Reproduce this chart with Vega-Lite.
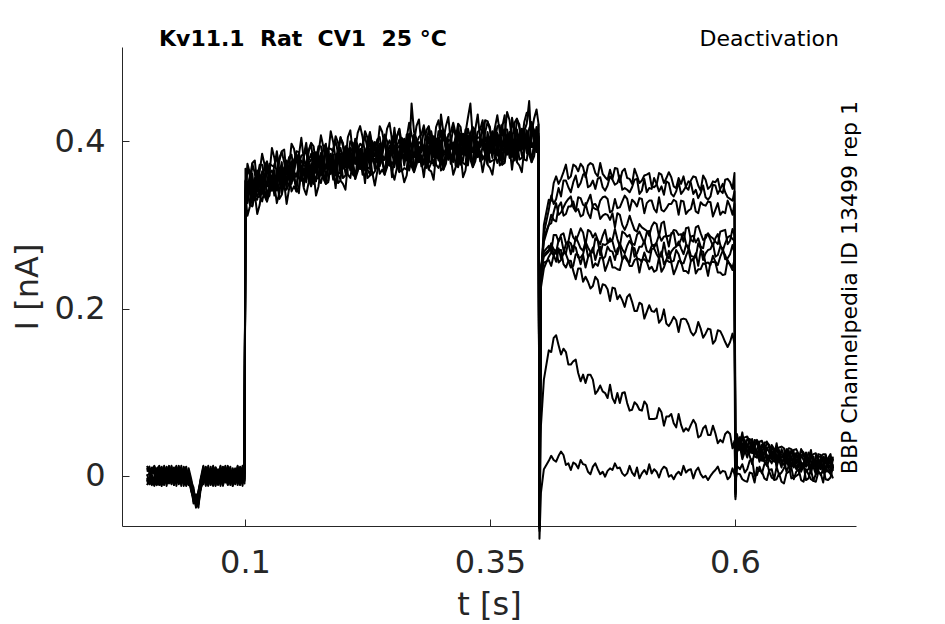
{
  "$schema": "https://vega.github.io/schema/vega-lite/v6.json",
  "width": 734,
  "height": 479,
  "autosize": {"type": "none"},
  "padding": {"left": 122, "top": 47, "right": 89, "bottom": 98},
  "background": "white",
  "title": {
    "text": "Kv11.1\u00a0 Rat\u00a0 CV1\u00a0 25 °C",
    "anchor": "start",
    "frame": "group",
    "dx": 37,
    "offset": -23,
    "font": "DejaVu Sans",
    "fontSize": 22,
    "fontWeight": "bold",
    "color": "#000000"
  },
  "config": {
    "view": {"stroke": null},
    "axis": {
      "grid": false,
      "domainColor": "#262626",
      "tickColor": "#262626",
      "labelColor": "#262626",
      "titleColor": "#262626",
      "labelFont": "DejaVu Sans",
      "titleFont": "DejaVu Sans",
      "labelFontSize": 32,
      "titleFontSize": 32,
      "titleFontWeight": "normal",
      "tickSize": -7,
      "domainWidth": 1,
      "tickWidth": 1
    }
  },
  "layer": [
    {
      "data": {
        "values": [
          {"t":0,"a":0.005,"b":-0.008,"c":0.002,"d":0.01,"e":-0.004,"f":-0.011,"g":0.007,"h":0,"i":-0.006,"j":0.012,"k":-0.002},
          {"t":0.0025,"a":0.009,"b":-0.003,"c":-0.007,"d":0.004,"e":-0.01,"f":-0.005,"g":0.011,"h":0.003,"i":-0.001,"j":0.006,"k":-0.009},
          {"t":0.005,"a":-0.002,"b":0.006,"c":-0.011,"d":-0.006,"e":0.003,"f":0.008,"g":0.001,"h":-0.009,"i":0.01,"j":-0.004,"k":0.007},
          {"t":0.0075,"a":-0.01,"b":0.011,"c":-0.001,"d":-0.012,"e":0.007,"f":0.002,"g":-0.006,"h":-0.004,"i":0.005,"j":-0.008,"k":0.012},
          {"t":0.01,"a":0.003,"b":0.004,"c":0.009,"d":-0.005,"e":-0.008,"f":-0.009,"g":-0.011,"h":0.008,"i":-0.003,"j":0.002,"k":0.001},
          {"t":0.0125,"a":0.008,"b":-0.007,"c":0.004,"d":0.006,"e":-0.002,"f":0.01,"g":-0.003,"h":0.012,"i":-0.011,"j":-0.006,"k":-0.005},
          {"t":0.015,"a":-0.006,"b":-0.012,"c":-0.008,"d":0.011,"e":0.009,"f":0.005,"g":0.004,"h":-0.001,"i":0.002,"j":-0.01,"k":-0.007},
          {"t":0.0175,"a":0,"b":0.002,"c":0.012,"d":0.001,"e":-0.011,"f":-0.003,"g":0.009,"h":-0.01,"i":0.008,"j":0.007,"k":0.004},
          {"t":0.02,"a":0.011,"b":0.009,"c":-0.004,"d":-0.009,"e":0.001,"f":-0.007,"g":-0.002,"h":0.005,"i":-0.012,"j":0.003,"k":0.01},
          {"t":0.0225,"a":-0.004,"b":-0.001,"c":0.006,"d":-0.003,"e":0.012,"f":0.011,"g":-0.008,"h":-0.006,"i":0.004,"j":-0.009,"k":-0.003},
          {"t":0.025,"a":0.007,"b":-0.01,"c":-0.009,"d":0.008,"e":-0.005,"f":-0.001,"g":0.012,"h":0.002,"i":-0.007,"j":0.011,"k":0.006},
          {"t":0.0275,"a":-0.009,"b":0.005,"c":0.003,"d":-0.011,"e":-0.007,"f":0.006,"g":-0.005,"h":0.01,"i":0.001,"j":-0.002,"k":-0.011},
          {"t":0.03,"a":0.002,"b":0.012,"c":-0.006,"d":0.005,"e":0.01,"f":-0.012,"g":0.003,"h":-0.003,"i":0.009,"j":-0.007,"k":0},
          {"t":0.0325,"a":0.012,"b":-0.004,"c":0.01,"d":-0.002,"e":-0.001,"f":0.004,"g":-0.01,"h":0.007,"i":-0.005,"j":0.005,"k":0.008},
          {"t":0.035,"a":-0.007,"b":0.001,"c":-0.003,"d":0.012,"e":0.006,"f":0.009,"g":-0.001,"h":-0.012,"i":-0.009,"j":-0.001,"k":-0.006},
          {"t":0.0375,"a":0.004,"b":-0.009,"c":0.007,"d":-0.007,"e":-0.012,"f":-0.004,"g":0.008,"h":0.004,"i":0.011,"j":0.01,"k":0.002},
          {"t":0.04,"a":-0.011,"b":0.007,"c":-0.012,"d":0.003,"e":0.004,"f":0.001,"g":-0.007,"h":-0.008,"i":-0.002,"j":-0.005,"k":0.011},
          {"t":0.0425,"a":0.006,"b":-0.002,"c":0.001,"d":-0.01,"e":-0.003,"f":-0.008,"g":0.002,"h":0.009,"i":0.006,"j":-0.011,"k":-0.004},
          {"t":0.045,"a":-0.008,"b":-0.014,"c":-0.01,"d":-0.004,"e":-0.016,"f":-0.006,"g":-0.018,"h":-0.003,"i":-0.012,"j":-0.009,"k":-0.015},
          {"t":0.0475,"a":-0.02,"b":-0.028,"c":-0.017,"d":-0.025,"e":-0.031,"f":-0.014,"g":-0.026,"h":-0.033,"i":-0.022,"j":-0.019,"k":-0.024},
          {"t":0.05,"a":-0.033,"b":-0.024,"c":-0.038,"d":-0.029,"e":-0.022,"f":-0.035,"g":-0.027,"h":-0.031,"i":-0.036,"j":-0.03,"k":-0.026},
          {"t":0.0525,"a":-0.021,"b":-0.03,"c":-0.018,"d":-0.034,"e":-0.027,"f":-0.019,"g":-0.032,"h":-0.023,"i":-0.025,"j":-0.038,"k":-0.02},
          {"t":0.055,"a":-0.006,"b":-0.012,"c":-0.003,"d":-0.015,"e":-0.009,"f":-0.004,"g":-0.011,"h":-0.014,"i":-0.002,"j":-0.008,"k":-0.013},
          {"t":0.0575,"a":0.009,"b":-0.005,"c":0.006,"d":-0.001,"e":0.011,"f":-0.01,"g":0.003,"h":-0.007,"i":0.012,"j":-0.003,"k":0.005},
          {"t":0.06,"a":-0.003,"b":0.01,"c":-0.009,"d":0.007,"e":-0.006,"f":0.002,"g":-0.012,"h":0.011,"i":-0.004,"j":0.008,"k":-0.001},
          {"t":0.0625,"a":0.012,"b":0.003,"c":-0.002,"d":-0.011,"e":0.005,"f":0.008,"g":0.006,"h":-0.005,"i":0.001,"j":-0.012,"k":0.009},
          {"t":0.065,"a":-0.005,"b":-0.011,"c":0.011,"d":0.004,"e":-0.01,"f":-0.006,"g":-0.003,"h":0.001,"i":-0.009,"j":0.004,"k":-0.008},
          {"t":0.0675,"a":0.001,"b":0.007,"c":-0.006,"d":0.01,"e":0.002,"f":0.012,"g":-0.009,"h":-0.012,"i":0.007,"j":-0.006,"k":0.011},
          {"t":0.07,"a":0.01,"b":-0.001,"c":0.004,"d":-0.008,"e":-0.012,"f":-0.002,"g":0.01,"h":0.006,"i":-0.011,"j":0.009,"k":-0.004},
          {"t":0.0725,"a":-0.008,"b":-0.009,"c":-0.011,"d":0.002,"e":0.008,"f":-0.009,"g":-0.001,"h":-0.002,"i":0.003,"j":-0.001,"k":0.003},
          {"t":0.075,"a":0.004,"b":0.011,"c":0.008,"d":-0.005,"e":-0.004,"f":0.005,"g":-0.007,"h":0.012,"i":-0.006,"j":-0.01,"k":-0.012},
          {"t":0.0775,"a":-0.012,"b":-0.004,"c":-0.001,"d":0.011,"e":0.01,"f":-0.011,"g":0.004,"h":-0.008,"i":0.01,"j":0.006,"k":0.007},
          {"t":0.08,"a":0.006,"b":0.008,"c":-0.008,"d":-0.003,"e":-0.007,"f":0.001,"g":0.012,"h":0.003,"i":-0.002,"j":0.001,"k":-0.005},
          {"t":0.0825,"a":-0.001,"b":-0.006,"c":0.01,"d":-0.01,"e":0.003,"f":0.01,"g":-0.005,"h":-0.011,"i":-0.008,"j":0.012,"k":0.01},
          {"t":0.085,"a":0.011,"b":0.002,"c":-0.004,"d":0.006,"e":-0.011,"f":-0.007,"g":0.001,"h":0.009,"i":0.005,"j":-0.003,"k":-0.002},
          {"t":0.0875,"a":-0.006,"b":-0.012,"c":0.003,"d":-0.001,"e":0.009,"f":0.003,"g":-0.01,"h":-0.004,"i":-0.012,"j":-0.008,"k":0.004},
          {"t":0.09,"a":0.003,"b":0.006,"c":-0.01,"d":0.009,"e":-0.002,"f":-0.005,"g":0.007,"h":0.005,"i":0.008,"j":0.005,"k":-0.009},
          {"t":0.0925,"a":0.008,"b":-0.003,"c":0.007,"d":-0.007,"e":0.012,"f":0.011,"g":-0.003,"h":-0.009,"i":-0.001,"j":-0.011,"k":0.001},
          {"t":0.095,"a":-0.01,"b":0.009,"c":-0.002,"d":0.003,"e":-0.005,"f":-0.008,"g":-0.011,"h":0.002,"i":0.011,"j":0.007,"k":0.008},
          {"t":0.0975,"a":0.002,"b":-0.005,"c":0.012,"d":-0.012,"e":0.006,"f":0.006,"g":0.005,"h":0.01,"i":-0.005,"j":-0.002,"k":-0.007},
          {"t":0.0995,"a":0.009,"b":0.004,"c":-0.005,"d":0.005,"e":-0.009,"f":-0.001,"g":-0.006,"h":-0.003,"i":0.004,"j":0.01,"k":0.006},
          {"t":0.1005,"a":0.367,"b":0.34,"c":0.352,"d":0.338,"e":0.353,"f":0.333,"g":0.322,"h":0.335,"i":0.341,"j":0.335,"k":0.33},
          {"t":0.105,"a":0.356,"b":0.362,"c":0.34,"d":0.359,"e":0.343,"f":0.349,"g":0.34,"h":0.322,"i":0.359,"j":0.324,"k":0.344},
          {"t":0.11,"a":0.377,"b":0.356,"c":0.362,"d":0.342,"e":0.336,"f":0.345,"g":0.349,"h":0.331,"i":0.341,"j":0.337,"k":0.332},
          {"t":0.115,"a":0.364,"b":0.372,"c":0.357,"d":0.359,"e":0.356,"f":0.334,"g":0.335,"h":0.351,"i":0.355,"j":0.324,"k":0.356},
          {"t":0.12,"a":0.372,"b":0.355,"c":0.371,"d":0.343,"e":0.356,"f":0.357,"g":0.342,"h":0.334,"i":0.342,"j":0.337,"k":0.36},
          {"t":0.125,"a":0.361,"b":0.373,"c":0.357,"d":0.359,"e":0.346,"f":0.362,"g":0.352,"h":0.342,"i":0.366,"j":0.335,"k":0.346},
          {"t":0.13,"a":0.38,"b":0.369,"c":0.356,"d":0.372,"e":0.365,"f":0.345,"g":0.335,"h":0.348,"i":0.355,"j":0.348,"k":0.353},
          {"t":0.135,"a":0.376,"b":0.365,"c":0.38,"d":0.359,"e":0.349,"f":0.36,"g":0.362,"h":0.338,"i":0.368,"j":0.331,"k":0.36},
          {"t":0.14,"a":0.39,"b":0.369,"c":0.375,"d":0.355,"e":0.349,"f":0.358,"g":0.362,"h":0.344,"i":0.354,"j":0.35,"k":0.345},
          {"t":0.145,"a":0.369,"b":0.381,"c":0.365,"d":0.367,"e":0.354,"f":0.37,"g":0.36,"h":0.35,"i":0.374,"j":0.343,"k":0.354},
          {"t":0.15,"a":0.391,"b":0.364,"c":0.376,"d":0.362,"e":0.377,"f":0.357,"g":0.346,"h":0.359,"i":0.365,"j":0.359,"k":0.354},
          {"t":0.155,"a":0.383,"b":0.372,"c":0.387,"d":0.366,"e":0.356,"f":0.367,"g":0.369,"h":0.345,"i":0.375,"j":0.338,"k":0.367},
          {"t":0.16,"a":0.378,"b":0.384,"c":0.362,"d":0.381,"e":0.365,"f":0.371,"g":0.362,"h":0.344,"i":0.381,"j":0.346,"k":0.366},
          {"t":0.165,"a":0.389,"b":0.372,"c":0.388,"d":0.36,"e":0.373,"f":0.374,"g":0.359,"h":0.351,"i":0.359,"j":0.354,"k":0.377},
          {"t":0.17,"a":0.394,"b":0.383,"c":0.37,"d":0.386,"e":0.379,"f":0.359,"g":0.349,"h":0.362,"i":0.369,"j":0.362,"k":0.367},
          {"t":0.175,"a":0.386,"b":0.394,"c":0.379,"d":0.381,"e":0.378,"f":0.356,"g":0.357,"h":0.373,"i":0.377,"j":0.346,"k":0.378},
          {"t":0.18,"a":0.393,"b":0.376,"c":0.392,"d":0.364,"e":0.377,"f":0.378,"g":0.363,"h":0.355,"i":0.363,"j":0.358,"k":0.381},
          {"t":0.185,"a":0.385,"b":0.391,"c":0.369,"d":0.388,"e":0.372,"f":0.378,"g":0.369,"h":0.351,"i":0.388,"j":0.353,"k":0.373},
          {"t":0.19,"a":0.399,"b":0.388,"c":0.375,"d":0.391,"e":0.384,"f":0.364,"g":0.354,"h":0.367,"i":0.374,"j":0.367,"k":0.372},
          {"t":0.195,"a":0.39,"b":0.398,"c":0.383,"d":0.385,"e":0.382,"f":0.36,"g":0.361,"h":0.377,"i":0.381,"j":0.35,"k":0.382},
          {"t":0.2,"a":0.394,"b":0.383,"c":0.398,"d":0.377,"e":0.367,"f":0.378,"g":0.38,"h":0.356,"i":0.386,"j":0.349,"k":0.378},
          {"t":0.205,"a":0.405,"b":0.378,"c":0.39,"d":0.376,"e":0.391,"f":0.371,"g":0.36,"h":0.373,"i":0.379,"j":0.373,"k":0.368},
          {"t":0.21,"a":0.386,"b":0.398,"c":0.382,"d":0.384,"e":0.371,"f":0.387,"g":0.377,"h":0.367,"i":0.391,"j":0.36,"k":0.371},
          {"t":0.215,"a":0.41,"b":0.389,"c":0.395,"d":0.375,"e":0.369,"f":0.378,"g":0.382,"h":0.364,"i":0.374,"j":0.37,"k":0.365},
          {"t":0.22,"a":0.405,"b":0.394,"c":0.381,"d":0.397,"e":0.39,"f":0.37,"g":0.36,"h":0.373,"i":0.38,"j":0.373,"k":0.378},
          {"t":0.225,"a":0.396,"b":0.404,"c":0.389,"d":0.391,"e":0.388,"f":0.366,"g":0.367,"h":0.383,"i":0.387,"j":0.356,"k":0.388},
          {"t":0.23,"a":0.394,"b":0.4,"c":0.378,"d":0.397,"e":0.381,"f":0.387,"g":0.378,"h":0.36,"i":0.397,"j":0.362,"k":0.382},
          {"t":0.235,"a":0.39,"b":0.402,"c":0.386,"d":0.388,"e":0.375,"f":0.391,"g":0.381,"h":0.371,"i":0.395,"j":0.364,"k":0.375},
          {"t":0.24,"a":0.411,"b":0.384,"c":0.396,"d":0.382,"e":0.397,"f":0.377,"g":0.366,"h":0.379,"i":0.385,"j":0.379,"k":0.374},
          {"t":0.245,"a":0.415,"b":0.394,"c":0.4,"d":0.38,"e":0.374,"f":0.383,"g":0.387,"h":0.369,"i":0.379,"j":0.375,"k":0.37},
          {"t":0.25,"a":0.402,"b":0.391,"c":0.406,"d":0.385,"e":0.375,"f":0.386,"g":0.388,"h":0.364,"i":0.394,"j":0.357,"k":0.386},
          {"t":0.255,"a":0.406,"b":0.389,"c":0.405,"d":0.377,"e":0.39,"f":0.391,"g":0.376,"h":0.368,"i":0.376,"j":0.371,"k":0.394},
          {"t":0.26,"a":0.398,"b":0.404,"c":0.382,"d":0.401,"e":0.385,"f":0.391,"g":0.382,"h":0.364,"i":0.401,"j":0.366,"k":0.386},
          {"t":0.265,"a":0.404,"b":0.393,"c":0.408,"d":0.387,"e":0.377,"f":0.388,"g":0.39,"h":0.366,"i":0.396,"j":0.359,"k":0.388},
          {"t":0.27,"a":0.408,"b":0.391,"c":0.445,"d":0.379,"e":0.392,"f":0.393,"g":0.378,"h":0.37,"i":0.378,"j":0.373,"k":0.396},
          {"t":0.275,"a":0.418,"b":0.397,"c":0.403,"d":0.383,"e":0.377,"f":0.386,"g":0.39,"h":0.372,"i":0.382,"j":0.378,"k":0.373},
          {"t":0.28,"a":0.396,"b":0.408,"c":0.392,"d":0.394,"e":0.381,"f":0.397,"g":0.387,"h":0.377,"i":0.401,"j":0.37,"k":0.381},
          {"t":0.285,"a":0.413,"b":0.402,"c":0.389,"d":0.405,"e":0.398,"f":0.378,"g":0.368,"h":0.381,"i":0.388,"j":0.381,"k":0.386},
          {"t":0.29,"a":0.404,"b":0.412,"c":0.397,"d":0.399,"e":0.396,"f":0.374,"g":0.375,"h":0.391,"i":0.395,"j":0.364,"k":0.396},
          {"t":0.295,"a":0.417,"b":0.39,"c":0.402,"d":0.388,"e":0.403,"f":0.383,"g":0.372,"h":0.385,"i":0.391,"j":0.385,"k":0.38},
          {"t":0.3,"a":0.405,"b":0.413,"c":0.398,"d":0.4,"e":0.432,"f":0.375,"g":0.376,"h":0.392,"i":0.396,"j":0.365,"k":0.397},
          {"t":0.305,"a":0.418,"b":0.391,"c":0.403,"d":0.389,"e":0.404,"f":0.384,"g":0.373,"h":0.386,"i":0.392,"j":0.386,"k":0.381},
          {"t":0.31,"a":0.399,"b":0.411,"c":0.395,"d":0.397,"e":0.384,"f":0.4,"g":0.39,"h":0.38,"i":0.404,"j":0.373,"k":0.384},
          {"t":0.315,"a":0.403,"b":0.409,"c":0.387,"d":0.406,"e":0.39,"f":0.396,"g":0.387,"h":0.369,"i":0.406,"j":0.371,"k":0.391},
          {"t":0.32,"a":0.417,"b":0.406,"c":0.393,"d":0.409,"e":0.402,"f":0.382,"g":0.372,"h":0.385,"i":0.392,"j":0.385,"k":0.39},
          {"t":0.325,"a":0.41,"b":0.399,"c":0.414,"d":0.393,"e":0.383,"f":0.394,"g":0.396,"h":0.372,"i":0.402,"j":0.365,"k":0.394},
          {"t":0.33,"a":0.445,"b":0.403,"c":0.409,"d":0.389,"e":0.383,"f":0.392,"g":0.396,"h":0.378,"i":0.388,"j":0.384,"k":0.379},
          {"t":0.335,"a":0.414,"b":0.397,"c":0.413,"d":0.385,"e":0.398,"f":0.399,"g":0.384,"h":0.376,"i":0.384,"j":0.379,"k":0.402},
          {"t":0.34,"a":0.402,"b":0.414,"c":0.398,"d":0.4,"e":0.387,"f":0.403,"g":0.393,"h":0.383,"i":0.407,"j":0.376,"k":0.387},
          {"t":0.345,"a":0.425,"b":0.404,"c":0.41,"d":0.39,"e":0.384,"f":0.393,"g":0.397,"h":0.379,"i":0.389,"j":0.385,"k":0.38},
          {"t":0.35,"a":0.413,"b":0.402,"c":0.417,"d":0.396,"e":0.386,"f":0.397,"g":0.399,"h":0.375,"i":0.405,"j":0.368,"k":0.397},
          {"t":0.355,"a":0.416,"b":0.399,"c":0.415,"d":0.387,"e":0.4,"f":0.401,"g":0.386,"h":0.378,"i":0.386,"j":0.381,"k":0.404},
          {"t":0.36,"a":0.411,"b":0.419,"c":0.404,"d":0.406,"e":0.403,"f":0.381,"g":0.382,"h":0.398,"i":0.402,"j":0.371,"k":0.403},
          {"t":0.365,"a":0.408,"b":0.414,"c":0.392,"d":0.411,"e":0.395,"f":0.401,"g":0.392,"h":0.374,"i":0.431,"j":0.376,"k":0.396},
          {"t":0.37,"a":0.425,"b":0.398,"c":0.41,"d":0.396,"e":0.411,"f":0.391,"g":0.38,"h":0.393,"i":0.399,"j":0.393,"k":0.388},
          {"t":0.375,"a":0.422,"b":0.411,"c":0.398,"d":0.414,"e":0.407,"f":0.387,"g":0.377,"h":0.39,"i":0.397,"j":0.39,"k":0.395},
          {"t":0.38,"a":0.416,"b":0.405,"c":0.42,"d":0.399,"e":0.389,"f":0.4,"g":0.402,"h":0.378,"i":0.408,"j":0.371,"k":0.4},
          {"t":0.385,"a":0.423,"b":0.412,"c":0.399,"d":0.415,"e":0.408,"f":0.388,"g":0.378,"h":0.391,"i":0.398,"j":0.391,"k":0.396},
          {"t":0.39,"a":0.43,"b":0.448,"c":0.415,"d":0.395,"e":0.389,"f":0.398,"g":0.402,"h":0.384,"i":0.394,"j":0.39,"k":0.385},
          {"t":0.395,"a":0.427,"b":0.4,"c":0.412,"d":0.398,"e":0.413,"f":0.393,"g":0.382,"h":0.395,"i":0.401,"j":0.395,"k":0.39},
          {"t":0.3995,"a":0.421,"b":0.404,"c":0.42,"d":0.392,"e":0.405,"f":0.406,"g":0.391,"h":0.383,"i":0.391,"j":0.386,"k":0.409},
          {"t":0.1025,"a":0.346,"b":0.373,"c":0.342,"d":0.367,"e":0.326,"f":0.345,"g":0.349,"h":0.311,"i":0.341,"j":0.343,"k":0.33},
          {"t":0.1075,"a":0.374,"b":0.342,"c":0.373,"d":0.336,"e":0.354,"f":0.323,"g":0.332,"h":0.349,"i":0.33,"j":0.322,"k":0.361},
          {"t":0.1125,"a":0.348,"b":0.356,"c":0.34,"d":0.362,"e":0.365,"f":0.333,"g":0.361,"h":0.33,"i":0.364,"j":0.313,"k":0.344},
          {"t":0.1175,"a":0.385,"b":0.372,"c":0.346,"d":0.337,"e":0.342,"f":0.364,"g":0.328,"h":0.358,"i":0.342,"j":0.347,"k":0.363},
          {"t":0.1225,"a":0.363,"b":0.346,"c":0.376,"d":0.37,"e":0.372,"f":0.346,"g":0.328,"h":0.328,"i":0.373,"j":0.331,"k":0.335},
          {"t":0.1275,"a":0.392,"b":0.371,"c":0.343,"d":0.351,"e":0.341,"f":0.365,"g":0.356,"h":0.354,"i":0.341,"j":0.359,"k":0.359},
          {"t":0.1325,"a":0.361,"b":0.388,"c":0.357,"d":0.382,"e":0.341,"f":0.36,"g":0.364,"h":0.326,"i":0.356,"j":0.358,"k":0.345},
          {"t":0.1375,"a":0.388,"b":0.356,"c":0.387,"d":0.35,"e":0.368,"f":0.337,"g":0.346,"h":0.363,"i":0.344,"j":0.336,"k":0.375},
          {"t":0.1425,"a":0.36,"b":0.368,"c":0.352,"d":0.374,"e":0.377,"f":0.345,"g":0.373,"h":0.342,"i":0.376,"j":0.325,"k":0.356},
          {"t":0.1475,"a":0.397,"b":0.384,"c":0.358,"d":0.349,"e":0.354,"f":0.376,"g":0.34,"h":0.37,"i":0.354,"j":0.359,"k":0.375},
          {"t":0.1525,"a":0.375,"b":0.358,"c":0.388,"d":0.382,"e":0.384,"f":0.358,"g":0.34,"h":0.34,"i":0.385,"j":0.343,"k":0.347},
          {"t":0.1575,"a":0.404,"b":0.383,"c":0.355,"d":0.363,"e":0.353,"f":0.377,"g":0.368,"h":0.366,"i":0.353,"j":0.371,"k":0.371},
          {"t":0.1625,"a":0.371,"b":0.398,"c":0.367,"d":0.392,"e":0.351,"f":0.37,"g":0.374,"h":0.336,"i":0.366,"j":0.368,"k":0.355},
          {"t":0.1675,"a":0.398,"b":0.366,"c":0.397,"d":0.36,"e":0.378,"f":0.347,"g":0.356,"h":0.373,"i":0.354,"j":0.346,"k":0.385},
          {"t":0.1725,"a":0.37,"b":0.378,"c":0.362,"d":0.384,"e":0.387,"f":0.355,"g":0.383,"h":0.352,"i":0.386,"j":0.335,"k":0.366},
          {"t":0.1775,"a":0.407,"b":0.394,"c":0.368,"d":0.359,"e":0.364,"f":0.386,"g":0.35,"h":0.38,"i":0.364,"j":0.369,"k":0.385},
          {"t":0.1825,"a":0.384,"b":0.367,"c":0.397,"d":0.391,"e":0.393,"f":0.367,"g":0.349,"h":0.349,"i":0.394,"j":0.352,"k":0.356},
          {"t":0.1875,"a":0.412,"b":0.391,"c":0.363,"d":0.371,"e":0.361,"f":0.385,"g":0.376,"h":0.374,"i":0.361,"j":0.379,"k":0.379},
          {"t":0.1925,"a":0.379,"b":0.406,"c":0.375,"d":0.4,"e":0.359,"f":0.378,"g":0.382,"h":0.344,"i":0.374,"j":0.376,"k":0.363},
          {"t":0.1975,"a":0.405,"b":0.373,"c":0.404,"d":0.367,"e":0.385,"f":0.354,"g":0.363,"h":0.38,"i":0.361,"j":0.353,"k":0.392},
          {"t":0.2025,"a":0.377,"b":0.385,"c":0.369,"d":0.391,"e":0.394,"f":0.362,"g":0.39,"h":0.359,"i":0.393,"j":0.342,"k":0.373},
          {"t":0.2075,"a":0.413,"b":0.4,"c":0.374,"d":0.365,"e":0.37,"f":0.392,"g":0.356,"h":0.386,"i":0.37,"j":0.375,"k":0.391},
          {"t":0.2125,"a":0.39,"b":0.373,"c":0.403,"d":0.397,"e":0.399,"f":0.373,"g":0.355,"h":0.355,"i":0.4,"j":0.358,"k":0.362},
          {"t":0.2175,"a":0.418,"b":0.397,"c":0.369,"d":0.377,"e":0.367,"f":0.391,"g":0.382,"h":0.38,"i":0.367,"j":0.385,"k":0.385},
          {"t":0.2225,"a":0.385,"b":0.412,"c":0.381,"d":0.406,"e":0.365,"f":0.384,"g":0.388,"h":0.35,"i":0.38,"j":0.382,"k":0.369},
          {"t":0.2275,"a":0.411,"b":0.379,"c":0.41,"d":0.373,"e":0.391,"f":0.36,"g":0.369,"h":0.386,"i":0.367,"j":0.359,"k":0.398},
          {"t":0.2325,"a":0.382,"b":0.39,"c":0.374,"d":0.396,"e":0.399,"f":0.367,"g":0.395,"h":0.364,"i":0.398,"j":0.347,"k":0.378},
          {"t":0.2375,"a":0.418,"b":0.405,"c":0.379,"d":0.37,"e":0.375,"f":0.397,"g":0.361,"h":0.391,"i":0.375,"j":0.38,"k":0.396},
          {"t":0.2425,"a":0.395,"b":0.378,"c":0.408,"d":0.402,"e":0.404,"f":0.378,"g":0.36,"h":0.36,"i":0.405,"j":0.363,"k":0.367},
          {"t":0.2475,"a":0.422,"b":0.401,"c":0.373,"d":0.381,"e":0.371,"f":0.395,"g":0.386,"h":0.384,"i":0.371,"j":0.389,"k":0.389},
          {"t":0.2525,"a":0.389,"b":0.416,"c":0.385,"d":0.41,"e":0.369,"f":0.388,"g":0.392,"h":0.354,"i":0.384,"j":0.386,"k":0.373},
          {"t":0.2575,"a":0.415,"b":0.383,"c":0.414,"d":0.377,"e":0.395,"f":0.364,"g":0.373,"h":0.39,"i":0.371,"j":0.363,"k":0.402},
          {"t":0.2625,"a":0.386,"b":0.394,"c":0.378,"d":0.4,"e":0.403,"f":0.371,"g":0.399,"h":0.368,"i":0.402,"j":0.351,"k":0.382},
          {"t":0.2675,"a":0.422,"b":0.409,"c":0.383,"d":0.374,"e":0.379,"f":0.401,"g":0.365,"h":0.395,"i":0.379,"j":0.384,"k":0.4},
          {"t":0.2725,"a":0.398,"b":0.381,"c":0.411,"d":0.405,"e":0.407,"f":0.381,"g":0.363,"h":0.363,"i":0.408,"j":0.366,"k":0.37},
          {"t":0.2775,"a":0.426,"b":0.405,"c":0.377,"d":0.385,"e":0.375,"f":0.399,"g":0.39,"h":0.388,"i":0.375,"j":0.393,"k":0.393},
          {"t":0.2825,"a":0.392,"b":0.419,"c":0.388,"d":0.413,"e":0.372,"f":0.391,"g":0.395,"h":0.357,"i":0.387,"j":0.389,"k":0.376},
          {"t":0.2875,"a":0.418,"b":0.386,"c":0.417,"d":0.38,"e":0.398,"f":0.367,"g":0.376,"h":0.393,"i":0.374,"j":0.366,"k":0.405},
          {"t":0.2925,"a":0.389,"b":0.397,"c":0.381,"d":0.403,"e":0.406,"f":0.374,"g":0.402,"h":0.371,"i":0.405,"j":0.354,"k":0.385},
          {"t":0.2975,"a":0.425,"b":0.412,"c":0.386,"d":0.377,"e":0.382,"f":0.404,"g":0.368,"h":0.398,"i":0.382,"j":0.387,"k":0.403},
          {"t":0.3025,"a":0.401,"b":0.384,"c":0.414,"d":0.408,"e":0.41,"f":0.384,"g":0.366,"h":0.366,"i":0.411,"j":0.369,"k":0.373},
          {"t":0.3075,"a":0.429,"b":0.408,"c":0.38,"d":0.388,"e":0.378,"f":0.402,"g":0.393,"h":0.391,"i":0.378,"j":0.396,"k":0.396},
          {"t":0.3125,"a":0.395,"b":0.422,"c":0.391,"d":0.416,"e":0.375,"f":0.394,"g":0.398,"h":0.36,"i":0.39,"j":0.392,"k":0.379},
          {"t":0.3175,"a":0.421,"b":0.389,"c":0.42,"d":0.383,"e":0.401,"f":0.37,"g":0.379,"h":0.396,"i":0.377,"j":0.369,"k":0.408},
          {"t":0.3225,"a":0.392,"b":0.4,"c":0.384,"d":0.406,"e":0.409,"f":0.377,"g":0.405,"h":0.374,"i":0.408,"j":0.357,"k":0.388},
          {"t":0.3275,"a":0.428,"b":0.415,"c":0.389,"d":0.38,"e":0.385,"f":0.407,"g":0.371,"h":0.401,"i":0.385,"j":0.39,"k":0.406},
          {"t":0.3325,"a":0.404,"b":0.387,"c":0.417,"d":0.411,"e":0.413,"f":0.387,"g":0.369,"h":0.369,"i":0.414,"j":0.372,"k":0.376},
          {"t":0.3375,"a":0.432,"b":0.411,"c":0.383,"d":0.391,"e":0.381,"f":0.405,"g":0.396,"h":0.394,"i":0.381,"j":0.399,"k":0.399},
          {"t":0.3425,"a":0.398,"b":0.425,"c":0.394,"d":0.419,"e":0.378,"f":0.397,"g":0.401,"h":0.363,"i":0.393,"j":0.395,"k":0.382},
          {"t":0.3475,"a":0.424,"b":0.392,"c":0.423,"d":0.386,"e":0.404,"f":0.373,"g":0.382,"h":0.399,"i":0.38,"j":0.372,"k":0.411},
          {"t":0.3525,"a":0.395,"b":0.403,"c":0.387,"d":0.409,"e":0.412,"f":0.38,"g":0.408,"h":0.377,"i":0.411,"j":0.36,"k":0.391},
          {"t":0.3575,"a":0.431,"b":0.418,"c":0.392,"d":0.383,"e":0.388,"f":0.41,"g":0.374,"h":0.404,"i":0.388,"j":0.393,"k":0.409},
          {"t":0.3625,"a":0.407,"b":0.39,"c":0.42,"d":0.414,"e":0.416,"f":0.39,"g":0.372,"h":0.372,"i":0.417,"j":0.375,"k":0.379},
          {"t":0.3675,"a":0.435,"b":0.414,"c":0.386,"d":0.394,"e":0.384,"f":0.408,"g":0.399,"h":0.397,"i":0.384,"j":0.402,"k":0.402},
          {"t":0.3725,"a":0.401,"b":0.428,"c":0.397,"d":0.422,"e":0.381,"f":0.4,"g":0.404,"h":0.366,"i":0.396,"j":0.398,"k":0.385},
          {"t":0.3775,"a":0.427,"b":0.395,"c":0.426,"d":0.389,"e":0.407,"f":0.376,"g":0.385,"h":0.402,"i":0.383,"j":0.375,"k":0.414},
          {"t":0.3825,"a":0.398,"b":0.406,"c":0.39,"d":0.412,"e":0.415,"f":0.383,"g":0.411,"h":0.38,"i":0.414,"j":0.363,"k":0.394},
          {"t":0.3875,"a":0.434,"b":0.421,"c":0.395,"d":0.386,"e":0.391,"f":0.413,"g":0.377,"h":0.407,"i":0.391,"j":0.396,"k":0.412},
          {"t":0.3925,"a":0.41,"b":0.393,"c":0.423,"d":0.417,"e":0.419,"f":0.393,"g":0.375,"h":0.375,"i":0.42,"j":0.378,"k":0.382},
          {"t":0.3975,"a":0.438,"b":0.417,"c":0.389,"d":0.397,"e":0.387,"f":0.411,"g":0.402,"h":0.4,"i":0.387,"j":0.405,"k":0.405},
          {"t":0.4005,"a":-0.055,"b":-0.06,"c":-0.058,"d":-0.062,"e":-0.057,"f":-0.06,"g":-0.063,"h":-0.059,"i":-0.061,"j":-0.066,"k":-0.075},
          {"t":0.402,"a":0.23,"b":0.235,"c":0.24,"d":0.245,"e":0.25,"f":0.248,"g":0.245,"h":0.24,"i":0.225,"j":0.06,"k":-0.02},
          {"t":0.405,"a":0.3,"b":0.29,"c":0.28,"d":0.285,"e":0.268,"f":0.265,"g":0.262,"h":0.255,"i":0.248,"j":0.115,"k":0.008},
          {"t":0.41,"a":0.33,"b":0.318,"c":0.3,"d":0.3,"e":0.275,"f":0.27,"g":0.268,"h":0.258,"i":0.262,"j":0.15,"k":0.018},
          {"t":0.415,"a":0.35,"b":0.325,"c":0.315,"d":0.306,"e":0.288,"f":0.271,"g":0.264,"h":0.264,"i":0.264,"j":0.165,"k":0.019},
          {"t":0.42,"a":0.349,"b":0.344,"c":0.312,"d":0.322,"e":0.28,"f":0.282,"g":0.272,"h":0.255,"i":0.27,"j":0.156,"k":0.024},
          {"t":0.425,"a":0.363,"b":0.353,"c":0.321,"d":0.311,"e":0.29,"f":0.27,"g":0.266,"h":0.267,"i":0.253,"j":0.152,"k":0.025},
          {"t":0.43,"a":0.355,"b":0.345,"c":0.331,"d":0.322,"e":0.28,"f":0.28,"g":0.278,"h":0.257,"i":0.257,"j":0.133,"k":0.015},
          {"t":0.435,"a":0.372,"b":0.351,"c":0.321,"d":0.328,"e":0.285,"f":0.268,"g":0.275,"h":0.251,"i":0.245,"j":0.137,"k":0.016},
          {"t":0.44,"a":0.364,"b":0.345,"c":0.333,"d":0.319,"e":0.288,"f":0.279,"g":0.261,"h":0.264,"i":0.248,"j":0.123,"k":0.009},
          {"t":0.445,"a":0.369,"b":0.36,"c":0.324,"d":0.312,"e":0.291,"f":0.269,"g":0.265,"h":0.264,"i":0.232,"j":0.121,"k":0.014},
          {"t":0.45,"a":0.371,"b":0.345,"c":0.329,"d":0.314,"e":0.294,"f":0.273,"g":0.262,"h":0.261,"i":0.232,"j":0.121,"k":0.005},
          {"t":0.455,"a":0.372,"b":0.353,"c":0.321,"d":0.324,"e":0.285,"f":0.267,"g":0.273,"h":0.249,"i":0.227,"j":0.115,"k":0.011},
          {"t":0.46,"a":0.358,"b":0.355,"c":0.318,"d":0.32,"e":0.282,"f":0.281,"g":0.269,"h":0.251,"i":0.234,"j":0.102,"k":0.008},
          {"t":0.465,"a":0.361,"b":0.345,"c":0.333,"d":0.311,"e":0.287,"f":0.277,"g":0.259,"h":0.261,"i":0.229,"j":0.101,"k":0.005},
          {"t":0.47,"a":0.354,"b":0.347,"c":0.331,"d":0.312,"e":0.279,"f":0.278,"g":0.274,"h":0.253,"i":0.223,"j":0.093,"k":0.006},
          {"t":0.475,"a":0.355,"b":0.354,"c":0.317,"d":0.314,"e":0.282,"f":0.28,"g":0.268,"h":0.249,"i":0.225,"j":0.093,"k":0.007},
          {"t":0.48,"a":0.367,"b":0.35,"c":0.32,"d":0.314,"e":0.283,"f":0.265,"g":0.271,"h":0.247,"i":0.211,"j":0.099,"k":0.009},
          {"t":0.485,"a":0.364,"b":0.342,"c":0.328,"d":0.3,"e":0.292,"f":0.271,"g":0.259,"h":0.258,"i":0.21,"j":0.099,"k":0.003},
          {"t":0.49,"a":0.356,"b":0.342,"c":0.331,"d":0.301,"e":0.286,"f":0.275,"g":0.257,"h":0.259,"i":0.214,"j":0.087,"k":0.003},
          {"t":0.495,"a":0.349,"b":0.345,"c":0.33,"d":0.302,"e":0.278,"f":0.276,"g":0.273,"h":0.251,"i":0.208,"j":0.079,"k":0.004},
          {"t":0.5,"a":0.359,"b":0.355,"c":0.322,"d":0.292,"e":0.288,"f":0.266,"g":0.26,"h":0.26,"i":0.197,"j":0.085,"k":0.01},
          {"t":0.505,"a":0.353,"b":0.341,"c":0.331,"d":0.297,"e":0.285,"f":0.274,"g":0.256,"h":0.258,"i":0.205,"j":0.078,"k":0.003},
          {"t":0.51,"a":0.36,"b":0.339,"c":0.326,"d":0.293,"e":0.291,"f":0.269,"g":0.258,"h":0.256,"i":0.196,"j":0.085,"k":0.002},
          {"t":0.515,"a":0.346,"b":0.343,"c":0.329,"d":0.298,"e":0.277,"f":0.275,"g":0.271,"h":0.25,"i":0.197,"j":0.068,"k":0.003},
          {"t":0.52,"a":0.348,"b":0.349,"c":0.315,"d":0.301,"e":0.279,"f":0.278,"g":0.265,"h":0.246,"i":0.2,"j":0.069,"k":0.005},
          {"t":0.525,"a":0.36,"b":0.346,"c":0.318,"d":0.302,"e":0.281,"f":0.262,"g":0.268,"h":0.244,"i":0.187,"j":0.076,"k":0.007},
          {"t":0.53,"a":0.356,"b":0.352,"c":0.32,"d":0.286,"e":0.287,"f":0.264,"g":0.258,"h":0.258,"i":0.182,"j":0.071,"k":0.009},
          {"t":0.535,"a":0.357,"b":0.337,"c":0.325,"d":0.288,"e":0.29,"f":0.268,"g":0.256,"h":0.255,"i":0.184,"j":0.074,"k":0.001},
          {"t":0.54,"a":0.344,"b":0.34,"c":0.328,"d":0.293,"e":0.275,"f":0.274,"g":0.27,"h":0.248,"i":0.186,"j":0.058,"k":0.002},
          {"t":0.545,"a":0.349,"b":0.337,"c":0.329,"d":0.289,"e":0.283,"f":0.272,"g":0.254,"h":0.256,"i":0.187,"j":0.061,"k":0.001},
          {"t":0.55,"a":0.345,"b":0.346,"c":0.313,"d":0.296,"e":0.278,"f":0.276,"g":0.263,"h":0.245,"i":0.187,"j":0.057,"k":0.004},
          {"t":0.555,"a":0.353,"b":0.35,"c":0.319,"d":0.282,"e":0.286,"f":0.263,"g":0.257,"h":0.257,"i":0.172,"j":0.061,"k":0.008},
          {"t":0.56,"a":0.357,"b":0.342,"c":0.316,"d":0.297,"e":0.279,"f":0.261,"g":0.266,"h":0.242,"i":0.172,"j":0.062,"k":0.006},
          {"t":0.565,"a":0.341,"b":0.338,"c":0.327,"d":0.29,"e":0.274,"f":0.272,"g":0.269,"h":0.247,"i":0.176,"j":0.048,"k":0.002},
          {"t":0.57,"a":0.354,"b":0.333,"c":0.323,"d":0.284,"e":0.288,"f":0.266,"g":0.254,"h":0.253,"i":0.17,"j":0.06,"k":0},
          {"t":0.575,"a":0.346,"b":0.334,"c":0.327,"d":0.286,"e":0.282,"f":0.271,"g":0.252,"h":0.255,"i":0.175,"j":0.049,"k":0},
          {"t":0.58,"a":0.351,"b":0.347,"c":0.318,"d":0.28,"e":0.284,"f":0.262,"g":0.256,"h":0.255,"i":0.162,"j":0.051,"k":0.007},
          {"t":0.585,"a":0.341,"b":0.343,"c":0.312,"d":0.292,"e":0.276,"f":0.274,"g":0.262,"h":0.243,"i":0.173,"j":0.043,"k":0.003},
          {"t":0.59,"a":0.354,"b":0.339,"c":0.314,"d":0.294,"e":0.278,"f":0.259,"g":0.264,"h":0.241,"i":0.16,"j":0.05,"k":0.005},
          {"t":0.595,"a":0.351,"b":0.331,"c":0.322,"d":0.281,"e":0.287,"f":0.265,"g":0.253,"h":0.252,"i":0.16,"j":0.05,"k":-0.001},
          {"t":0.5995,"a":0.362,"b":0.34,"c":0.325,"d":0.288,"e":0.281,"f":0.266,"g":0.258,"h":0.247,"i":0.158,"j":0.042,"k":0.002},
          {"t":0.4125,"a":0.329,"b":0.335,"c":0.302,"d":0.312,"e":0.268,"f":0.277,"g":0.278,"h":0.251,"i":0.267,"j":0.148,"k":0.024},
          {"t":0.4175,"a":0.358,"b":0.331,"c":0.326,"d":0.304,"e":0.288,"f":0.267,"g":0.267,"h":0.27,"i":0.256,"j":0.168,"k":0.017},
          {"t":0.4225,"a":0.355,"b":0.334,"c":0.315,"d":0.327,"e":0.288,"f":0.285,"g":0.26,"h":0.258,"i":0.27,"j":0.145,"k":0.029},
          {"t":0.4275,"a":0.372,"b":0.353,"c":0.327,"d":0.313,"e":0.278,"f":0.266,"g":0.277,"h":0.265,"i":0.249,"j":0.148,"k":0.013},
          {"t":0.4325,"a":0.358,"b":0.339,"c":0.334,"d":0.322,"e":0.295,"f":0.278,"g":0.265,"h":0.249,"i":0.257,"j":0.133,"k":0.007},
          {"t":0.4375,"a":0.37,"b":0.359,"c":0.316,"d":0.317,"e":0.281,"f":0.286,"g":0.273,"h":0.265,"i":0.235,"j":0.139,"k":0.014},
          {"t":0.4425,"a":0.373,"b":0.35,"c":0.332,"d":0.31,"e":0.296,"f":0.272,"g":0.261,"h":0.253,"i":0.248,"j":0.113,"k":0.019},
          {"t":0.4475,"a":0.357,"b":0.362,"c":0.322,"d":0.326,"e":0.276,"f":0.28,"g":0.278,"h":0.249,"i":0.238,"j":0.111,"k":0.013},
          {"t":0.4525,"a":0.374,"b":0.347,"c":0.336,"d":0.308,"e":0.292,"f":0.268,"g":0.265,"h":0.267,"i":0.224,"j":0.121,"k":0.002},
          {"t":0.4575,"a":0.362,"b":0.343,"c":0.319,"d":0.325,"e":0.29,"f":0.284,"g":0.258,"h":0.254,"i":0.238,"j":0.098,"k":0.015},
          {"t":0.4625,"a":0.374,"b":0.357,"c":0.329,"d":0.307,"e":0.277,"f":0.264,"g":0.274,"h":0.261,"i":0.218,"j":0.108,"k":0.002},
          {"t":0.4675,"a":0.357,"b":0.341,"c":0.334,"d":0.313,"e":0.294,"f":0.276,"g":0.262,"h":0.245,"i":0.228,"j":0.099,"k":-0.001},
          {"t":0.4725,"a":0.366,"b":0.358,"c":0.315,"d":0.306,"e":0.28,"f":0.284,"g":0.269,"h":0.262,"i":0.209,"j":0.109,"k":0.009},
          {"t":0.4775,"a":0.368,"b":0.348,"c":0.331,"d":0.297,"e":0.295,"f":0.269,"g":0.258,"h":0.249,"i":0.224,"j":0.087,"k":0.015},
          {"t":0.4825,"a":0.351,"b":0.359,"c":0.321,"d":0.312,"e":0.274,"f":0.278,"g":0.275,"h":0.246,"i":0.216,"j":0.087,"k":0.01},
          {"t":0.4875,"a":0.367,"b":0.344,"c":0.335,"d":0.294,"e":0.29,"f":0.266,"g":0.262,"h":0.264,"i":0.202,"j":0.1,"k":0},
          {"t":0.4925,"a":0.355,"b":0.339,"c":0.317,"d":0.311,"e":0.288,"f":0.281,"g":0.255,"h":0.251,"i":0.217,"j":0.078,"k":0.012},
          {"t":0.4975,"a":0.367,"b":0.354,"c":0.327,"d":0.294,"e":0.276,"f":0.262,"g":0.272,"h":0.258,"i":0.197,"j":0.088,"k":0},
          {"t":0.5025,"a":0.35,"b":0.337,"c":0.332,"d":0.301,"e":0.292,"f":0.274,"g":0.259,"h":0.243,"i":0.207,"j":0.079,"k":-0.003},
          {"t":0.5075,"a":0.359,"b":0.355,"c":0.314,"d":0.295,"e":0.278,"f":0.281,"g":0.267,"h":0.259,"i":0.188,"j":0.089,"k":0.007},
          {"t":0.5125,"a":0.362,"b":0.344,"c":0.329,"d":0.287,"e":0.293,"f":0.267,"g":0.256,"h":0.247,"i":0.204,"j":0.068,"k":0.014},
          {"t":0.5175,"a":0.345,"b":0.356,"c":0.319,"d":0.303,"e":0.273,"f":0.276,"g":0.272,"h":0.244,"i":0.196,"j":0.068,"k":0.008},
          {"t":0.5225,"a":0.362,"b":0.34,"c":0.333,"d":0.286,"e":0.288,"f":0.264,"g":0.26,"h":0.261,"i":0.183,"j":0.081,"k":-0.002},
          {"t":0.5275,"a":0.35,"b":0.336,"c":0.316,"d":0.304,"e":0.286,"f":0.279,"g":0.253,"h":0.249,"i":0.199,"j":0.06,"k":0.011},
          {"t":0.5325,"a":0.363,"b":0.35,"c":0.325,"d":0.287,"e":0.274,"f":0.26,"g":0.269,"h":0.256,"i":0.179,"j":0.071,"k":-0.001},
          {"t":0.5375,"a":0.346,"b":0.334,"c":0.33,"d":0.294,"e":0.291,"f":0.272,"g":0.257,"h":0.241,"i":0.19,"j":0.063,"k":-0.004},
          {"t":0.5425,"a":0.356,"b":0.351,"c":0.312,"d":0.288,"e":0.276,"f":0.28,"g":0.265,"h":0.257,"i":0.172,"j":0.074,"k":0.005},
          {"t":0.5475,"a":0.358,"b":0.341,"c":0.328,"d":0.28,"e":0.291,"f":0.265,"g":0.254,"h":0.245,"i":0.188,"j":0.053,"k":0.012},
          {"t":0.5525,"a":0.342,"b":0.352,"c":0.317,"d":0.297,"e":0.271,"f":0.274,"g":0.27,"h":0.242,"i":0.181,"j":0.054,"k":0.007},
          {"t":0.5575,"a":0.358,"b":0.337,"c":0.331,"d":0.28,"e":0.287,"f":0.262,"g":0.258,"h":0.26,"i":0.168,"j":0.067,"k":-0.003},
          {"t":0.5625,"a":0.347,"b":0.332,"c":0.314,"d":0.299,"e":0.284,"f":0.278,"g":0.251,"h":0.247,"i":0.184,"j":0.046,"k":0.01},
          {"t":0.5675,"a":0.359,"b":0.347,"c":0.324,"d":0.282,"e":0.272,"f":0.258,"g":0.268,"h":0.254,"i":0.165,"j":0.057,"k":-0.002},
          {"t":0.5725,"a":0.343,"b":0.33,"c":0.328,"d":0.29,"e":0.289,"f":0.27,"g":0.255,"h":0.239,"i":0.176,"j":0.049,"k":-0.005},
          {"t":0.5775,"a":0.352,"b":0.348,"c":0.31,"d":0.284,"e":0.275,"f":0.278,"g":0.263,"h":0.256,"i":0.158,"j":0.06,"k":0.004},
          {"t":0.5825,"a":0.355,"b":0.337,"c":0.326,"d":0.277,"e":0.289,"f":0.264,"g":0.252,"h":0.243,"i":0.174,"j":0.039,"k":0.011},
          {"t":0.5875,"a":0.338,"b":0.349,"c":0.316,"d":0.293,"e":0.269,"f":0.272,"g":0.269,"h":0.24,"i":0.167,"j":0.04,"k":0.006},
          {"t":0.5925,"a":0.355,"b":0.333,"c":0.329,"d":0.277,"e":0.285,"f":0.26,"g":0.256,"h":0.258,"i":0.154,"j":0.053,"k":-0.004},
          {"t":0.5975,"a":0.343,"b":0.329,"c":0.312,"d":0.295,"e":0.283,"f":0.276,"g":0.249,"h":0.246,"i":0.17,"j":0.033,"k":0.009},
          {"t":0.6005,"a":-0.015,"b":-0.02,"c":-0.01,"d":-0.025,"e":-0.018,"f":-0.012,"g":-0.022,"h":-0.016,"i":-0.028,"j":-0.008,"k":-0.005},
          {"t":0.602,"a":0.045,"b":0.038,"c":0.05,"d":0.035,"e":0.042,"f":0.03,"g":0.04,"h":0.033,"i":0.028,"j":0.012,"k":0.003},
          {"t":0.605,"a":0.038,"b":0.046,"c":0.035,"d":0.046,"e":0.036,"f":0.044,"g":0.04,"h":0.031,"i":0.036,"j":0.008,"k":0.002},
          {"t":0.61,"a":0.033,"b":0.036,"c":0.046,"d":0.039,"e":0.03,"f":0.038,"g":0.043,"h":0.031,"i":0.029,"j":0.004,"k":-0.006},
          {"t":0.615,"a":0.044,"b":0.03,"c":0.041,"d":0.031,"e":0.042,"f":0.03,"g":0.027,"h":0.035,"i":0.024,"j":0.018,"k":0.004},
          {"t":0.62,"a":0.035,"b":0.029,"c":0.043,"d":0.032,"e":0.034,"f":0.033,"g":0.023,"h":0.035,"i":0.029,"j":0,"k":-0.008},
          {"t":0.625,"a":0.038,"b":0.041,"c":0.032,"d":0.024,"e":0.035,"f":0.022,"g":0.025,"h":0.034,"i":0.017,"j":0.011,"k":0.006},
          {"t":0.63,"a":0.04,"b":0.032,"c":0.027,"d":0.037,"e":0.027,"f":0.018,"g":0.032,"h":0.018,"i":0.017,"j":0.014,"k":-0.003},
          {"t":0.635,"a":0.037,"b":0.023,"c":0.034,"d":0.024,"e":0.035,"f":0.023,"g":0.02,"h":0.028,"i":0.019,"j":0.005,"k":0.007},
          {"t":0.64,"a":0.024,"b":0.032,"c":0.021,"d":0.032,"e":0.022,"f":0.03,"g":0.026,"h":0.017,"i":0.026,"j":-0.004,"k":-0.005},
          {"t":0.645,"a":0.021,"b":0.024,"c":0.034,"d":0.027,"e":0.018,"f":0.026,"g":0.031,"h":0.019,"i":0.021,"j":0.001,"k":0.003},
          {"t":0.65,"a":0.025,"b":0.019,"c":0.033,"d":0.022,"e":0.024,"f":0.023,"g":0.013,"h":0.025,"i":0.022,"j":0.009,"k":-0.009},
          {"t":0.655,"a":0.033,"b":0.025,"c":0.02,"d":0.03,"e":0.02,"f":0.011,"g":0.025,"h":0.011,"i":0.012,"j":0.012,"k":0.005},
          {"t":0.66,"a":0.028,"b":0.031,"c":0.022,"d":0.014,"e":0.025,"f":0.012,"g":0.015,"h":0.024,"i":0.01,"j":-0.002,"k":-0.004},
          {"t":0.665,"a":0.018,"b":0.026,"c":0.015,"d":0.026,"e":0.016,"f":0.024,"g":0.02,"h":0.011,"i":0.022,"j":0.002,"k":0.008},
          {"t":0.67,"a":0.028,"b":0.014,"c":0.025,"d":0.015,"e":0.026,"f":0.014,"g":0.011,"h":0.019,"i":0.012,"j":0.013,"k":-0.007},
          {"t":0.675,"a":0.02,"b":0.014,"c":0.028,"d":0.017,"e":0.019,"f":0.018,"g":0.008,"h":0.02,"i":0.019,"j":-0.003,"k":0.002},
          {"t":0.68,"a":0.013,"b":0.016,"c":0.026,"d":0.019,"e":0.01,"f":0.018,"g":0.023,"h":0.011,"i":0.015,"j":-0.006,"k":-0.006},
          {"t":0.685,"a":0.023,"b":0.026,"c":0.017,"d":0.009,"e":0.02,"f":0.007,"g":0.01,"h":0.019,"i":0.006,"j":0.007,"k":0.004},
          {"t":0.69,"a":0.026,"b":0.018,"c":0.013,"d":0.023,"e":0.013,"f":0.004,"g":0.018,"h":0.004,"i":0.008,"j":0.01,"k":-0.008},
          {"t":0.695,"a":0.013,"b":0.021,"c":0.01,"d":0.021,"e":0.011,"f":0.019,"g":0.015,"h":0.006,"i":0.019,"j":-0.005,"k":0.005},
          {"t":0.7,"a":0.023,"b":0.009,"c":0.02,"d":0.01,"e":0.021,"f":0.009,"g":0.006,"h":0.014,"i":0.009,"j":0.011,"k":-0.003},
          {"t":0.6075,"a":0.052,"b":0.046,"c":0.044,"d":0.032,"e":0.029,"f":0.025,"g":0.043,"h":0.039,"i":0.02,"j":0.014,"k":-0.004},
          {"t":0.6125,"a":0.034,"b":0.028,"c":0.047,"d":0.038,"e":0.044,"f":0.035,"g":0.029,"h":0.022,"i":0.031,"j":0.008,"k":-0.007},
          {"t":0.6175,"a":0.042,"b":0.044,"c":0.027,"d":0.031,"e":0.028,"f":0.041,"g":0.035,"h":0.037,"i":0.014,"j":0.02,"k":0.003},
          {"t":0.6225,"a":0.043,"b":0.032,"c":0.041,"d":0.022,"e":0.041,"f":0.025,"g":0.022,"h":0.023,"i":0.03,"j":0.001,"k":0.01},
          {"t":0.6275,"a":0.025,"b":0.042,"c":0.029,"d":0.037,"e":0.019,"f":0.032,"g":0.037,"h":0.018,"i":0.024,"j":0.003,"k":0.005},
          {"t":0.6325,"a":0.04,"b":0.025,"c":0.041,"d":0.019,"e":0.033,"f":0.018,"g":0.023,"h":0.034,"i":0.012,"j":0.017,"k":-0.005},
          {"t":0.6375,"a":0.028,"b":0.02,"c":0.023,"d":0.037,"e":0.03,"f":0.033,"g":0.015,"h":0.021,"i":0.029,"j":-0.002,"k":0.008},
          {"t":0.6425,"a":0.039,"b":0.033,"c":0.031,"d":0.019,"e":0.016,"f":0.012,"g":0.03,"h":0.026,"i":0.011,"j":0.011,"k":-0.004},
          {"t":0.6475,"a":0.022,"b":0.016,"c":0.035,"d":0.026,"e":0.032,"f":0.023,"g":0.017,"h":0.01,"i":0.023,"j":0.004,"k":-0.007},
          {"t":0.6525,"a":0.03,"b":0.032,"c":0.015,"d":0.019,"e":0.016,"f":0.029,"g":0.023,"h":0.025,"i":0.005,"j":0.017,"k":0.003},
          {"t":0.6575,"a":0.032,"b":0.021,"c":0.03,"d":0.011,"e":0.03,"f":0.014,"g":0.011,"h":0.012,"i":0.023,"j":-0.003,"k":0.01},
          {"t":0.6625,"a":0.015,"b":0.032,"c":0.019,"d":0.027,"e":0.009,"f":0.022,"g":0.027,"h":0.008,"i":0.017,"j":0,"k":0.005},
          {"t":0.6675,"a":0.031,"b":0.016,"c":0.032,"d":0.01,"e":0.024,"f":0.009,"g":0.014,"h":0.025,"i":0.005,"j":0.015,"k":-0.005},
          {"t":0.6725,"a":0.019,"b":0.011,"c":0.014,"d":0.028,"e":0.021,"f":0.024,"g":0.006,"h":0.012,"i":0.023,"j":-0.005,"k":0.008},
          {"t":0.6775,"a":0.031,"b":0.025,"c":0.023,"d":0.011,"e":0.008,"f":0.004,"g":0.022,"h":0.018,"i":0.005,"j":0.008,"k":-0.004},
          {"t":0.6825,"a":0.014,"b":0.008,"c":0.027,"d":0.018,"e":0.024,"f":0.015,"g":0.009,"h":0.002,"i":0.017,"j":0.002,"k":-0.007},
          {"t":0.6875,"a":0.023,"b":0.025,"c":0.008,"d":0.012,"e":0.009,"f":0.022,"g":0.016,"h":0.018,"i":0.001,"j":0.015,"k":0.003},
          {"t":0.6925,"a":0.026,"b":0.015,"c":0.024,"d":0.005,"e":0.024,"f":0.008,"g":0.005,"h":0.006,"i":0.019,"j":-0.004,"k":0.01},
          {"t":0.6975,"a":0.009,"b":0.026,"c":0.013,"d":0.021,"e":0.003,"f":0.016,"g":0.021,"h":0.002,"i":0.013,"j":-0.002,"k":0.005}
        ]
      },
      "transform": [
        {"fold": ["a", "b", "c", "d", "e", "f", "g", "h", "i", "j", "k"], "as": ["sweep", "current"]}
      ],
      "mark": {"type": "line", "color": "#000000", "strokeWidth": 2, "strokeJoin": "round"},
      "encoding": {
        "x": {
          "field": "t",
          "type": "quantitative",
          "title": "t [s]",
          "scale": {"domain": [-0.0255, 0.7235], "nice": false, "zero": false},
          "axis": {"values": [0.1, 0.35, 0.6], "format": ".2~f", "labelPadding": 28, "titlePadding": 11}
        },
        "y": {
          "field": "current",
          "type": "quantitative",
          "title": "I [nA]",
          "scale": {"domain": [-0.0599, 0.5126], "nice": false, "zero": false},
          "axis": {"values": [0, 0.2, 0.4], "format": ".1~f", "labelPadding": 24, "titlePadding": 10}
        },
        "detail": {"field": "sweep", "type": "nominal"}
      }
    },
    {
      "data": {"values": [{"label": "Deactivation"}]},
      "mark": {"type": "text", "align": "right", "baseline": "alphabetic", "font": "DejaVu Sans", "fontSize": 22, "color": "#000000"},
      "encoding": {
        "x": {
          "datum": 0.7061,
          "type": "quantitative",
          "title": "t [s]",
          "scale": {"domain": [-0.0255, 0.7235], "nice": false, "zero": false},
          "axis": {"values": [0.1, 0.35, 0.6], "format": ".2~f", "labelPadding": 28, "titlePadding": 11}
        },
        "y": {
          "datum": 0.5138,
          "type": "quantitative",
          "title": "I [nA]",
          "scale": {"domain": [-0.0599, 0.5126], "nice": false, "zero": false},
          "axis": {"values": [0, 0.2, 0.4], "format": ".1~f", "labelPadding": 24, "titlePadding": 10}
        },
        "text": {"field": "label"}
      }
    },
    {
      "data": {"values": [{"label": "BBP Channelpedia ID 13499 rep 1"}]},
      "mark": {"type": "text", "align": "left", "baseline": "alphabetic", "angle": 270, "font": "DejaVu Sans", "fontSize": 22, "color": "#000000"},
      "encoding": {
        "x": {
          "datum": 0.7245,
          "type": "quantitative",
          "title": "t [s]",
          "scale": {"domain": [-0.0255, 0.7235], "nice": false, "zero": false},
          "axis": {"values": [0.1, 0.35, 0.6], "format": ".2~f", "labelPadding": 28, "titlePadding": 11}
        },
        "y": {
          "datum": 0.002,
          "type": "quantitative",
          "title": "I [nA]",
          "scale": {"domain": [-0.0599, 0.5126], "nice": false, "zero": false},
          "axis": {"values": [0, 0.2, 0.4], "format": ".1~f", "labelPadding": 24, "titlePadding": 10}
        },
        "text": {"field": "label"}
      }
    }
  ]
}
